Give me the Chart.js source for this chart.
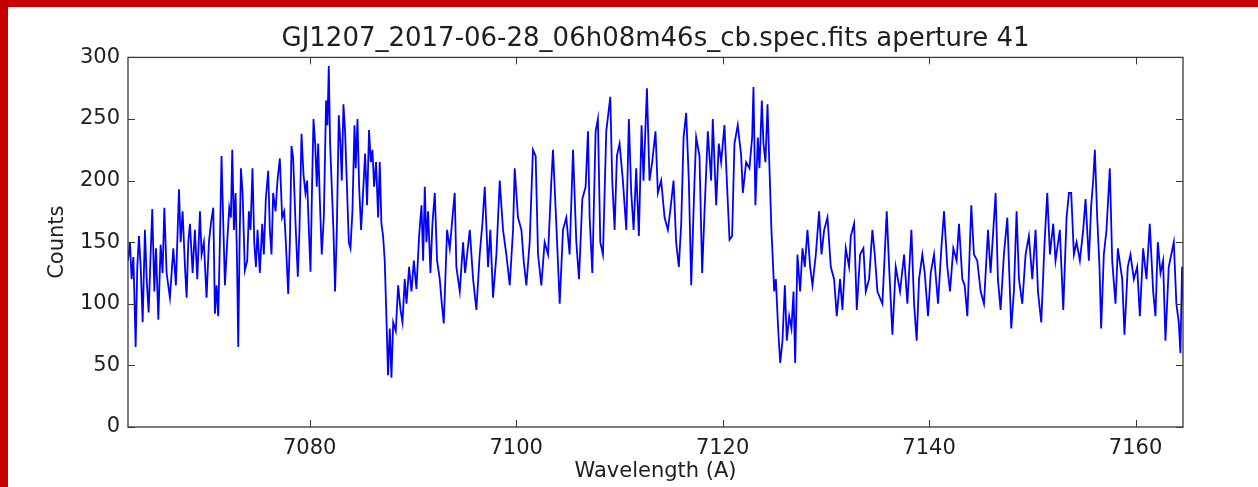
<!DOCTYPE html>
<html>
<head>
<meta charset="utf-8">
<title>GJ1207 aperture 41</title>
<script src="https://cdn.jsdelivr.net/npm/chart.js@4.4.0/dist/chart.umd.min.js"></script>
<style>
  html, body { margin: 0; padding: 0; background: #fff; }
  #wrap { position: relative; width: 1258px; height: 487px; overflow: hidden; background: #fff; }
  #grafico { position: absolute; left: 0; top: 0; }
  .faixa { position: absolute; background: #c40000; }
</style>
</head>
<body>
<div id="wrap">
  <canvas id="grafico" width="1258" height="487"></canvas>
  <div class="faixa" style="left:0;top:0;width:1258px;height:7px"></div>
  <div class="faixa" style="left:0;top:0;width:8px;height:487px"></div>
</div>
<script>
// Dados do espectro
const tituloGrafico = 'GJ1207_2017-06-28_06h08m46s_cb.spec.fits aperture 41';
const xTicks = [7080, 7100, 7120, 7140, 7160];
const yTicks = [0, 50, 100, 150, 200, 250, 300];

const wavelengths = [
  // 7062 - 7088
  7062.40, 7062.59, 7062.75, 7062.92, 7063.01, 7063.14, 7063.30, 7063.46, 7063.63, 7063.82,
  7064.04, 7064.21, 7064.40, 7064.59, 7064.75, 7064.95, 7065.11, 7065.34, 7065.56, 7065.75,
  7065.92, 7066.14, 7066.46, 7066.79, 7067.04, 7067.34, 7067.50, 7067.69, 7067.92, 7068.08,
  7068.24, 7068.40, 7068.66, 7068.88, 7069.11, 7069.37, 7069.53, 7069.75, 7070.01, 7070.24,
  7070.43, 7070.66, 7070.82, 7070.98, 7071.14, 7071.30, 7071.46, 7071.63, 7071.79, 7072.01,
  7072.21, 7072.37, 7072.50, 7072.66, 7072.82, 7072.95, 7073.08, 7073.21, 7073.34, 7073.50,
  7073.72, 7073.95, 7074.11, 7074.27, 7074.46, 7074.63, 7074.79, 7074.95, 7075.17, 7075.40,
  7075.56, 7075.75, 7075.98, 7076.14, 7076.30, 7076.46, 7076.69, 7076.88, 7077.11, 7077.33,
  7077.53, 7077.69, 7077.92, 7078.08, 7078.24, 7078.40, 7078.63, 7078.85, 7079.01, 7079.21,
  7079.40, 7079.59, 7079.75, 7079.92, 7080.08, 7080.24, 7080.37, 7080.53, 7080.69, 7080.82,
  7080.98, 7081.17, 7081.37, 7081.59, 7081.72, 7081.85, 7081.98, 7082.14, 7082.30, 7082.46,
  7082.63, 7082.82, 7082.98, 7083.11, 7083.27, 7083.43, 7083.59, 7083.79, 7083.95, 7084.14,
  7084.34, 7084.46, 7084.63, 7084.79, 7084.98, 7085.17, 7085.37, 7085.56, 7085.75, 7085.92,
  7086.08, 7086.24, 7086.43, 7086.63, 7086.79, 7086.95, 7087.11, 7087.27, 7087.43, 7087.59,
  7087.76, 7087.92,
  // 7088 - 7125
  7088.09, 7088.34, 7088.57, 7088.80, 7088.99, 7089.21, 7089.38, 7089.63, 7089.86, 7090.09,
  7090.34, 7090.60, 7090.83, 7090.99, 7091.15, 7091.31, 7091.47, 7091.70, 7091.89, 7092.12,
  7092.34, 7092.60, 7092.80, 7092.99, 7093.31, 7093.57, 7093.83, 7094.05, 7094.21, 7094.54,
  7094.86, 7095.05, 7095.25, 7095.51, 7095.83, 7096.15, 7096.47, 7096.73, 7096.96, 7097.28,
  7097.50, 7097.76, 7098.09, 7098.41, 7098.73, 7099.05, 7099.38, 7099.70, 7099.86, 7100.18,
  7100.51, 7100.73, 7100.99, 7101.31, 7101.63, 7101.89, 7102.12, 7102.44, 7102.76, 7103.09,
  7103.41, 7103.57, 7103.89, 7104.22, 7104.54, 7104.86, 7105.18, 7105.51, 7105.83, 7106.09,
  7106.41, 7106.73, 7106.96, 7107.12, 7107.38, 7107.70, 7107.92, 7108.15, 7108.41, 7108.73,
  7109.12, 7109.31, 7109.54, 7109.76, 7110.02, 7110.34, 7110.67, 7110.92, 7111.15, 7111.38,
  7111.63, 7111.89, 7112.15, 7112.34, 7112.67, 7112.92, 7113.18, 7113.50, 7113.73, 7114.05,
  7114.38, 7114.70, 7114.92, 7115.25, 7115.50, 7115.76, 7115.99, 7116.22, 7116.47, 7116.73,
  7116.96, 7117.28, 7117.44, 7117.76, 7118.02, 7118.25, 7118.57, 7118.89, 7119.05, 7119.38,
  7119.63, 7119.86, 7120.18, 7120.41, 7120.67, 7120.92, 7121.15, 7121.47, 7121.80, 7121.96,
  7122.28, 7122.60, 7122.86, 7122.99, 7123.18, 7123.41, 7123.57, 7123.80, 7123.96, 7124.15,
  7124.35, 7124.54, 7124.73,
  // 7125 - 7165
  7124.84, 7125.00, 7125.16, 7125.38, 7125.58, 7125.80, 7126.03, 7126.22, 7126.45, 7126.67,
  7126.87, 7127.03, 7127.25, 7127.51, 7127.74, 7127.96, 7128.22, 7128.48, 7128.71, 7129.03,
  7129.35, 7129.58, 7129.84, 7130.16, 7130.48, 7130.80, 7131.06, 7131.38, 7131.61, 7131.93,
  7132.25, 7132.42, 7132.74, 7133.00, 7133.32, 7133.64, 7133.87, 7134.19, 7134.51, 7134.74,
  7135.00, 7135.48, 7135.90, 7136.13, 7136.45, 7136.77, 7137.19, 7137.58, 7137.90, 7138.29,
  7138.55, 7138.80, 7139.03, 7139.35, 7139.58, 7139.90, 7140.16, 7140.48, 7140.87, 7141.19,
  7141.45, 7141.77, 7142.03, 7142.35, 7142.67, 7142.90, 7143.22, 7143.45, 7143.71, 7144.09,
  7144.35, 7144.67, 7145.00, 7145.32, 7145.71, 7145.96, 7146.45, 7146.67, 7146.93, 7147.25,
  7147.58, 7147.96, 7148.22, 7148.48, 7148.71, 7149.03, 7149.35, 7149.67, 7150.00, 7150.32,
  7150.55, 7150.87, 7151.19, 7151.45, 7151.71, 7152.03, 7152.25, 7152.67, 7153.00, 7153.32,
  7153.55, 7153.77, 7154.03, 7154.29, 7154.61, 7154.93, 7155.16, 7155.48, 7155.71, 7155.90,
  7156.06, 7156.29, 7156.51, 7156.67, 7156.93, 7157.19, 7157.51, 7157.74, 7158.06, 7158.29,
  7158.71, 7158.93, 7159.25, 7159.51, 7159.84, 7160.16, 7160.42, 7160.74, 7161.06, 7161.38,
  7161.71, 7161.93, 7162.16, 7162.42, 7162.67, 7162.90, 7163.22, 7163.71, 7163.96, 7164.19,
  7164.35, 7164.51, 7164.67
];

const counts = [
  // 7062 - 7088
  135, 150, 120, 138, 110, 65, 130, 155, 130, 85,
  160, 120, 93, 140, 177, 110, 145, 87, 148, 125,
  178, 125, 105, 145, 115, 193, 150, 175, 130, 105,
  150, 165, 125, 160, 120, 175, 140, 150, 105, 150,
  165, 178, 92, 115, 90, 150, 220, 165, 115, 150,
  178, 170, 225, 160, 190, 140, 65, 150, 210, 190,
  127, 135, 175, 160, 210, 150, 130, 160, 125, 165,
  140, 185, 208, 160, 140, 190, 175, 200, 218, 170,
  175, 150, 108, 150, 228, 218, 165, 122, 160, 238,
  205, 190, 200, 160, 126, 200, 250, 230, 195, 230,
  185, 140, 170, 265, 245, 293, 230, 195, 160, 110,
  160, 253, 230, 200, 262, 240, 200, 150, 145, 175,
  245, 210, 250, 195, 160, 190, 222, 180, 241, 215,
  225, 195, 215, 170, 215, 165, 155, 135, 90, 42,
  80, 40,
  // 7088 - 7125
  85, 78, 115, 95, 85, 120, 100, 130, 110, 135,
  112, 155, 180, 135, 195, 150, 175, 125, 165, 190,
  135, 120, 100, 84, 160, 145, 170, 190, 130, 110,
  150, 125, 140, 160, 120, 95, 140, 165, 195, 130,
  160, 105, 140, 200, 160, 140, 115, 160, 210, 170,
  160, 135, 115, 150, 225, 220, 140, 115, 150, 140,
  200, 225, 165, 100, 160, 170, 140, 225, 150, 120,
  185, 195, 240, 170, 125, 240, 250, 150, 140, 240,
  268, 200, 160, 220, 230, 200, 160, 250, 190, 160,
  210, 155, 245, 200, 275, 200, 215, 240, 190, 200,
  170, 160, 175, 200, 150, 130, 165, 235, 255, 200,
  115, 200, 235, 220, 125, 175, 240, 200, 250, 180,
  230, 215, 245, 200, 152, 155, 230, 245, 220, 190,
  215, 210, 235, 276, 180, 235, 210, 265, 230, 215,
  262, 210, 160,
  // 7125 - 7165
  140, 110, 120, 80, 52, 70, 115, 70, 90, 80,
  110, 52, 140, 110, 145, 130, 160, 130, 115, 140,
  175, 140, 160, 170, 130, 120, 90, 120, 95, 145,
  130, 155, 165, 95, 140, 145, 110, 120, 160, 140,
  110, 100, 175, 130, 75, 130, 110, 140, 100, 160,
  100, 70, 120, 140, 125, 90, 125, 140, 100, 145,
  175, 130, 110, 145, 135, 165, 120, 115, 90, 180,
  140, 135, 110, 100, 160, 125, 190, 120, 95, 140,
  170, 80, 110, 175, 120, 100, 140, 155, 120, 160,
  110, 85, 150, 190, 140, 165, 135, 160, 95, 170,
  190, 190, 140, 150, 135, 160, 185, 135, 180, 200,
  225, 170, 130, 80, 140, 160, 210, 135, 100, 145,
  120, 75, 130, 140, 120, 130, 90, 145, 120, 165,
  110, 90, 150, 125, 135, 70, 130, 150, 100, 85,
  60, 130, 100
];

const fonte = 'DejaVu Sans';
const corTexto = '#1e1e1e';
const corMoldura = '#383838';

// Moldura estilo matplotlib com ticks para dentro nos quatro lados
const molduraEixos = {
  id: 'molduraEixos',
  afterDraw(chart) {
    const { ctx, chartArea, scales } = chart;
    const { left, right, top, bottom } = chartArea;
    const tam = 7;
    ctx.save();
    ctx.strokeStyle = corMoldura;
    ctx.lineWidth = 1.3;
    ctx.strokeRect(left, top, right - left, bottom - top);
    ctx.lineWidth = 1;
    ctx.beginPath();
    xTicks.forEach(v => {
      const px = Math.round(scales.x.getPixelForValue(v)) + 0.5;
      ctx.moveTo(px, bottom); ctx.lineTo(px, bottom - tam);
      ctx.moveTo(px, top); ctx.lineTo(px, top + tam);
    });
    yTicks.forEach(v => {
      const py = Math.round(scales.y.getPixelForValue(v)) + 0.5;
      ctx.moveTo(left, py); ctx.lineTo(left + tam, py);
      ctx.moveTo(right, py); ctx.lineTo(right - tam, py);
    });
    ctx.stroke();
    ctx.restore();
  }
};

const pontos = wavelengths.map((w, i) => ({ x: w, y: counts[i] }));

new Chart(document.getElementById('grafico'), {
  type: 'line',
  data: {
    datasets: [{
      data: pontos,
      borderColor: '#0000ff',
      borderWidth: 1.8,
      pointRadius: 0,
      tension: 0,
      fill: false
    }]
  },
  options: {
    responsive: false,
    animation: false,
    devicePixelRatio: 1,
    layout: { padding: { top: 0, left: 0, right: 75, bottom: 0 } },
    plugins: {
      legend: { display: false },
      tooltip: { enabled: false },
      title: {
        display: true,
        fullSize: false,
        text: tituloGrafico,
        color: corTexto,
        font: { family: fonte, size: 26, weight: 'normal', lineHeight: 1.2 },
        padding: { top: 24, bottom: 2.2 }
      }
    },
    scales: {
      x: {
        type: 'linear',
        min: 7062.4,
        max: 7164.6,
        afterBuildTicks: scale => { scale.ticks = xTicks.map(v => ({ value: v })); },
        afterFit: scale => { scale.height = 60; },
        grid: { display: false, drawTicks: false },
        border: { display: false },
        ticks: {
          color: corTexto,
          font: { family: fonte, size: 21 },
          padding: 9,
          maxRotation: 0,
          autoSkip: false,
          callback: v => String(v)
        },
        title: {
          display: true,
          text: 'Wavelength (A)',
          color: corTexto,
          font: { family: fonte, size: 21 },
          padding: { top: 0, bottom: 3 }
        }
      },
      y: {
        min: 0,
        max: 300,
        afterBuildTicks: scale => { scale.ticks = yTicks.map(v => ({ value: v })); },
        afterFit: scale => { scale.width = 128; },
        grid: { display: false, drawTicks: false },
        border: { display: false },
        ticks: {
          color: corTexto,
          font: { family: fonte, size: 21 },
          padding: 8,
          callback: v => String(v)
        },
        title: {
          display: true,
          text: 'Counts',
          color: corTexto,
          font: { family: fonte, size: 21 },
          padding: { top: 45, bottom: 0 }
        }
      }
    }
  },
  plugins: [molduraEixos]
});
</script>
</body>
</html>
